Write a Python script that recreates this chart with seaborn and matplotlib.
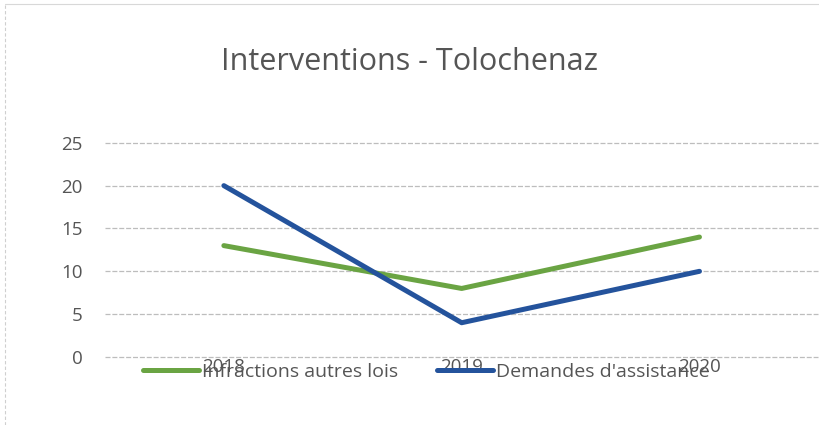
import matplotlib
matplotlib.use("Agg")
import matplotlib.pyplot as plt
import pandas as pd
import seaborn as sns

# Données
annees = ["2018", "2019", "2020"]
infractions_autres_lois = [13, 8, 14]
demandes_assistance = [20, 4, 10]
series = ["Infractions autres lois", "Demandes d'assistance"]

PALETTE = {
    "Infractions autres lois": "#6aa443",
    "Demandes d'assistance": "#24539c",
}

df = pd.DataFrame({
    "annee": annees * 2,
    "valeur": infractions_autres_lois + demandes_assistance,
    "serie": [series[0]] * 3 + [series[1]] * 3,
})

sns.set_theme(style="white")
plt.rcParams["font.family"] = ["Open Sans", "DejaVu Sans"]

fig = plt.figure(figsize=(8.2, 4.25), dpi=100)
ax = fig.add_axes([0.128, 0.16, 0.87, 0.504])

sns.lineplot(data=df, x="annee", y="valeur", hue="serie", palette=PALETTE,
             linewidth=3.6, ax=ax, legend=True, sort=False)

ax.set_xlim(-0.5, 2.5)
ax.set_ylim(0, 25)
ax.set_yticks([0, 5, 10, 15, 20, 25])
ax.yaxis.grid(True, color="#bdbdbd", linewidth=0.9, linestyle=(0, (4, 1.5)))
for gl in ax.get_ygridlines():
    gl.set_clip_on(False)
ax.set_axisbelow(True)
for s in ax.spines.values():
    s.set_visible(False)
ax.tick_params(axis="both", length=0, labelsize=13.5, labelcolor="#555555")
ax.tick_params(axis="x", pad=1)
ax.tick_params(axis="y", pad=16)
ax.set_xlabel("")
ax.set_ylabel("")

ax.legend(loc="center", bbox_to_anchor=(0.52, 0.125),
          bbox_transform=fig.transFigure, ncol=2,
          frameon=False, fontsize=14, handlelength=2.9, handletextpad=0.15,
          columnspacing=2.0, labelcolor="#555555")

fig.text(0.5, 0.855, "Interventions - Tolochenaz", ha="center", va="center",
         fontsize=22, color="#555555")

# bordure du cadre (scan)
fig.add_artist(plt.Line2D([0.006, 0.006], [0.0, 0.99], color="#cfcfcf",
                          linewidth=0.8, linestyle=(0, (3, 2))))
fig.add_artist(plt.Line2D([0.006, 1.0], [0.99, 0.99], color="#d8d8d8",
                          linewidth=0.8))

fig.savefig("out.png", dpi=100, facecolor="white")
